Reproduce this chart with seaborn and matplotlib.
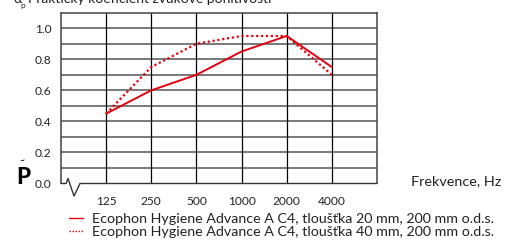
import matplotlib
matplotlib.use('Agg')
import matplotlib.pyplot as plt
import seaborn as sns
import pandas as pd

# data
freqs = ['125', '250', '500', '1000', '2000', '4000']
alpha_20mm = [0.45, 0.60, 0.70, 0.85, 0.95, 0.75]
alpha_40mm = [0.45, 0.75, 0.90, 0.95, 0.95, 0.70]
label_20mm = 'Ecophon Hygiene Advance A C4, tloušťka 20 mm, 200 mm o.d.s.'
label_40mm = 'Ecophon Hygiene Advance A C4, tloušťka 40 mm, 200 mm o.d.s.'
yticks = [0.0, 0.2, 0.4, 0.6, 0.8, 1.0]

sns.set_style('white')
plt.rcParams['font.family'] = ['Lato', 'DejaVu Sans']

red = '#e3000f'
txt = '#222222'
pos = list(range(len(freqs)))
df20 = pd.DataFrame({'x': pos, 'y': alpha_20mm})
df40 = pd.DataFrame({'x': pos, 'y': alpha_40mm})

fig = plt.figure(figsize=(5.09, 2.43), dpi=100)
ax = fig.add_axes([61 / 509, 1 - 183.5 / 243, 316 / 509, 170.8 / 243])

# grid: grey horizontals every 0.1, black verticals at each band
for i in range(1, 11):
    ax.axhline(i / 10, color='#555555', lw=1.1, zorder=1)
for p in pos:
    ax.axvline(p, color='black', lw=0.9, zorder=1)

sns.lineplot(data=df20, x='x', y='y', ax=ax, color=red, lw=1.4, label=label_20mm, zorder=3)
sns.lineplot(data=df40, x='x', y='y', ax=ax, color=red, lw=1.6, linestyle=(0, (1, 1.2)),
             label=label_40mm, zorder=3)

ax.set_xlim(-1, 6)
ax.set_ylim(0, 1.1)
ax.set_xticks(pos)
ax.set_xticklabels(freqs)
ax.set_yticks(yticks)
ax.set_yticklabels([f'{v:.1f}' for v in yticks])
ax.tick_params(axis='both', length=0, labelsize=8.6, colors=txt)
ax.tick_params(axis='x', pad=9)
ax.tick_params(axis='y', pad=7)
ax.set_xlabel('')
ax.set_ylabel('')
for side in ['left', 'right', 'top']:
    ax.spines[side].set_color('#444444')
    ax.spines[side].set_linewidth(1.1)
ax.spines['bottom'].set_visible(False)

# axis break zigzag on the bottom edge
zx = [0, 5 / 316, 7 / 316, 13 / 316, 19 / 316, 1]
zy = [0, 0, 5 / 170.8, -12.5 / 170.8, 0, 0]
ax.plot(zx, zy, transform=ax.transAxes, color='#333333', lw=1.0, clip_on=False, zorder=4)

leg = ax.legend(loc='upper left', bbox_to_anchor=(62 / 509, 1 - 206 / 243),
                bbox_transform=fig.transFigure, frameon=False, fontsize=10.3,
                handlelength=1.0, handletextpad=0.6, labelspacing=0.05, borderpad=0)
for t in leg.get_texts():
    t.set_color(txt)
for h in leg.get_lines():
    h.set_linewidth(1.0)

fig.text(411 / 509, 1 - 181 / 243, 'Frekvence, Hz', fontsize=10.4, va='center', color=txt)
fig.text(13 / 509, 1 - 3 / 243, 'α', fontsize=10, va='baseline', color=txt)
fig.text(20 / 509, 1 - 8 / 243, 'p', fontsize=6, va='baseline', color=txt)
fig.text(28 / 509, 1 - 3 / 243, 'Praktický koeficient zvukové pohltivosti', fontsize=10,
         va='baseline', color=txt)
fig.text(16 / 509, 1 - 184 / 243, 'P', fontsize=16, fontweight='black', va='baseline', color='black')
fig.text(20 / 509, 1 - 163 / 243, '~', fontsize=6, fontweight='bold', va='baseline', color='black')

fig.savefig('out.png', dpi=100)
